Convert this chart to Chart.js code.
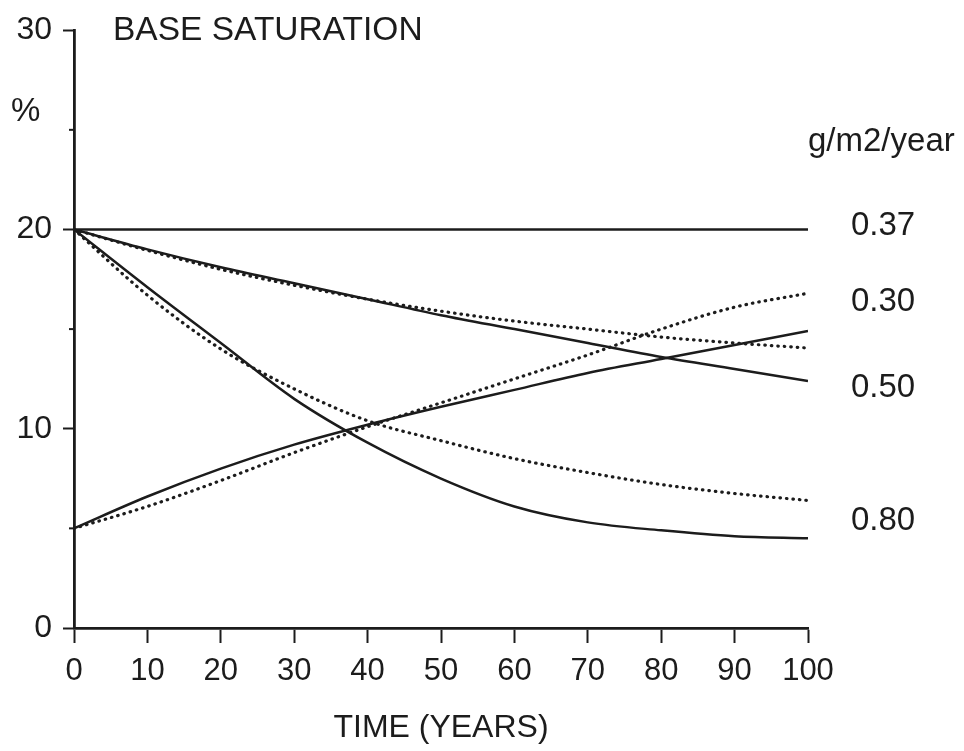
<!DOCTYPE html>
<html>
<head>
<meta charset="utf-8">
<script src="https://cdn.jsdelivr.net/npm/chart.js@4.4.1/dist/chart.umd.min.js"></script>
<style>
  html, body { margin: 0; padding: 0; background: #fff; }
  #wrap { width: 964px; height: 751px; }
</style>
</head>
<body>
<div id="wrap"><canvas id="baseSatChart"></canvas></div>
<script>
// Years on the time axis
const years = [0, 10, 20, 30, 40, 50, 60, 70, 80, 90, 100];

// Base saturation (%) per deposition rate, solid and dotted runs
const rate037 = [20, 20, 20, 20, 20, 20, 20, 20, 20, 20, 20];
const rate050Solid = [20, 19.0, 18.1, 17.3, 16.5, 15.7, 15.0, 14.3, 13.6, 13.0, 12.4];
const rate050Dotted = [20, 18.95, 18.0, 17.2, 16.5, 15.9, 15.4, 15.0, 14.6, 14.3, 14.05];
const rate080Solid = [20, 17.1, 14.3, 11.5, 9.3, 7.5, 6.1, 5.3, 4.9, 4.6, 4.5];
const rate080Dotted = [20, 16.7, 14.0, 12.0, 10.4, 9.4, 8.5, 7.8, 7.2, 6.75, 6.4];
const rate030Solid = [5, 6.6, 8.0, 9.2, 10.2, 11.1, 11.95, 12.8, 13.5, 14.2, 14.9];
const rate030Dotted = [5, 6.1, 7.4, 8.8, 10.1, 11.3, 12.5, 13.7, 15.0, 16.1, 16.8];

// Tick labels
const xTicks = [0, 10, 20, 30, 40, 50, 60, 70, 80, 90, 100];
const yTicks = [0, 10, 20, 30];
const yMinorTicks = [5, 15, 25];

const ink = '#1c1c1c';
const font = '"Liberation Sans", Arial, Helvetica, sans-serif';

function toPoints(values) {
    return years.map((yr, i) => ({ x: yr, y: values[i] }));
}

function solid(label, values) {
    return {
        label: label,
        data: toPoints(values),
        borderColor: ink,
        borderWidth: 2.5,
        pointRadius: 0,
        cubicInterpolationMode: 'monotone',
        fill: false
    };
}

function dotted(label, values) {
    return {
        label: label,
        data: toPoints(values),
        borderColor: ink,
        borderWidth: 3.2,
        borderDash: [0.5, 6],
        borderCapStyle: 'round',
        pointRadius: 0,
        cubicInterpolationMode: 'monotone',
        fill: false
    };
}

// Texts drawn onto the plot: title, unit, rate labels, minor ticks
const annotate = {
    id: 'annotate',
    afterDraw(chart) {
        const { ctx, chartArea, scales: { y } } = chart;
        ctx.save();
        ctx.fillStyle = ink;
        ctx.textBaseline = 'middle';
        ctx.textAlign = 'left';

        ctx.font = '33.5px ' + font;
        ctx.fillText('BASE SATURATION', 113, 31);

        ctx.font = '33px ' + font;
        ctx.fillText('%', 11, 112);

        ctx.font = '33px ' + font;
        ctx.fillText('g/m2/year', 808, y.getPixelForValue(24.4));
        ctx.fillText('0.37', 851, y.getPixelForValue(20.2));
        ctx.fillText('0.30', 851, y.getPixelForValue(16.35));
        ctx.fillText('0.50', 851, y.getPixelForValue(12.05));
        ctx.fillText('0.80', 851, y.getPixelForValue(5.35));

        // short minor ticks on the y axis
        ctx.strokeStyle = ink;
        ctx.lineWidth = 2;
        yMinorTicks.forEach(v => {
            const py = y.getPixelForValue(v);
            ctx.beginPath();
            ctx.moveTo(chartArea.left - 5, py);
            ctx.lineTo(chartArea.left, py);
            ctx.stroke();
        });
        ctx.restore();
    }
};

new Chart(document.getElementById('baseSatChart'), {
    type: 'line',
    data: {
        datasets: [
            solid('0.37', rate037),
            solid('0.50', rate050Solid),
            dotted('0.50', rate050Dotted),
            solid('0.80', rate080Solid),
            dotted('0.80', rate080Dotted),
            solid('0.30', rate030Solid),
            dotted('0.30', rate030Dotted)
        ]
    },
    options: {
        responsive: true,
        maintainAspectRatio: false,
        animation: false,
        layout: {
            padding: { top: 23, right: 156, left: 0, bottom: 0 }
        },
        plugins: {
            legend: { display: false },
            tooltip: { enabled: false }
        },
        scales: {
            x: {
                type: 'linear',
                min: 0,
                max: 100,
                afterFit: scale => { scale.height = 123; },
                afterBuildTicks: scale => {
                    scale.ticks = xTicks.map(v => ({ value: v }));
                },
                border: { display: true, color: ink, width: 2.8 },
                grid: {
                    drawOnChartArea: false,
                    drawTicks: true,
                    tickLength: 15,
                    tickColor: ink,
                    tickWidth: 2
                },
                ticks: {
                    color: ink,
                    padding: 10,
                    maxRotation: 0,
                    autoSkip: false,
                    font: { family: font, size: 31 }
                },
                title: {
                    display: true,
                    text: 'TIME (YEARS)',
                    color: ink,
                    padding: { top: 0, bottom: 4 },
                    font: { family: font, size: 32 }
                }
            },
            y: {
                type: 'linear',
                min: 0,
                max: 30,
                afterFit: scale => { scale.width = 74; },
                afterBuildTicks: scale => {
                    scale.ticks = yTicks.map(v => ({ value: v }));
                },
                border: { display: true, color: ink, width: 2.8 },
                grid: {
                    drawOnChartArea: false,
                    drawTicks: true,
                    tickLength: 11,
                    tickColor: ink,
                    tickWidth: 2
                },
                ticks: {
                    color: ink,
                    padding: 11,
                    font: { family: font, size: 32 }
                }
            }
        }
    },
    plugins: [annotate]
});
</script>
</body>
</html>
